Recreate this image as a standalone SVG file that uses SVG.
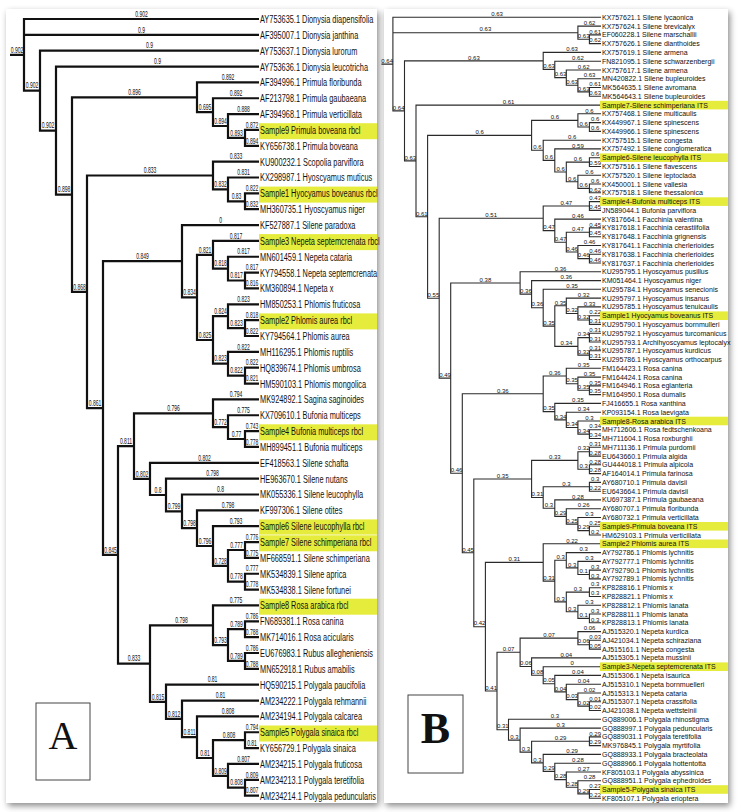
<svg xmlns="http://www.w3.org/2000/svg" width="756" height="812" viewBox="0 0 756 812">
<defs>
<filter id="sh" x="-5%" y="-5%" width="112%" height="110%">
<feDropShadow dx="2" dy="3" stdDeviation="3" flood-color="#000" flood-opacity="0.45"/>
</filter>
<style>
text{font-family:"Liberation Sans",Arial,sans-serif;fill:#111}
.la{font-size:11px;transform-box:fill-box;transform-origin:0% 50%;transform:scaleX(0.67)}
.ba text{font-size:8.4px;text-anchor:middle;transform-box:fill-box;transform-origin:50% 50%;transform:scaleX(0.6)}
.lb{font-size:7px}
.bb text{font-size:6px;text-anchor:middle}
.ea{stroke:#111;stroke-width:2.2;fill:none}
.eb{stroke:#2a2a2a;stroke-width:1.1;fill:none}
.hl{fill:#e6ec3c}
.panel{fill:#fff;filter:url(#sh)}
.lbox{fill:#fff;stroke:#444;stroke-width:1}
.big{font-family:"Liberation Serif","Times New Roman",serif;text-anchor:middle;fill:#111}
</style>
</defs>
<rect width="756" height="812" fill="#fff"/>
<rect class="panel" x="6" y="9" width="371" height="794"/>
<rect class="panel" x="384" y="9" width="344" height="794"/>

<!-- Panel A connectors -->
<g id="a-edges" class="ea">
<path d="M10 54.9H24M259 19H24V90.7H40M24 34.85H259"/>
<path d="M259 50.7H40V130.6H56M259 66.55H56V194.6H72M197 97.3H72V291.8H87"/>
<path d="M259 82.4H197V112.1H213M259 98.25H213V126H228M259 114.1H228V137.9H245M259 129.95H245V145.8H259"/>
<path d="M213 175.5H87V408.1H103M259 161.65H213V189.4H228M259 177.5H228V201.3H245M259 193.35H245V209.2H259"/>
<path d="M182 261.2H103V554.9H118M259 225.05H182V297.4H197M213 254.8H197V340H213M259 240.9H213V268.6H228M259 256.75H228V280.5H245M259 272.6H245V288.45H259"/>
<path d="M228 316.2H213V363.7H228M259 304.3H228V328.1H245M259 320.15H245V336H259M259 351.85H228V375.6H245M259 367.7H245V383.55H259"/>
<path d="M134 446.1H118V663.6H150M213 413.3H134V478.9H150M259 399.4H213V427.1H228M259 415.25H228V439H245M259 431.1H245V446.95H259"/>
<path d="M259 462.8H150V495H166M259 478.65H166V511.4H182M259 494.5H182V528.2H197M259 510.35H197V546H213M259 526.2H213V565.8H228M245 550H228V581.7H245M259 542.05H245V557.9H259M259 573.75H245V589.6H259"/>
<path d="M213 625.3H150V701.8H166M259 605.45H213V645.1H228M245 629.2H228V660.9H245M259 621.3H245V637.15H259M259 653H245V668.85H259"/>
<path d="M259 684.7H166V718.9H182M259 700.55H182V737.2H197M259 716.4H197V758H213M245 740.2H213V775.8H228M259 732.25H245V748.1H259M259 763.95H228V787.7H245M259 779.8H245V795.65H259"/>
</g>

<!-- Panel A branch labels -->
<g id="a-branch-labels" class="ba">
<text x="17" y="52.7">0.902</text><text x="141.5" y="16.8">0.902</text><text x="141.5" y="32.6">0.9</text>
<text x="32" y="88.5">0.902</text><text x="149.5" y="48.5">0.9</text><text x="48" y="128.4">0.902</text>
<text x="157.5" y="64.3">0.9</text><text x="64" y="192.4">0.898</text><text x="134.5" y="95.1">0.896</text>
<text x="228" y="80.2">0.892</text><text x="205" y="109.9">0.695</text><text x="236" y="96">0.892</text>
<text x="220.5" y="123.8">0.894</text><text x="243.5" y="111.9">0.888</text><text x="236.5" y="135.7">0.893</text>
<text x="252" y="127.7">0.872</text><text x="252" y="143.6">0.894</text><text x="79.5" y="289.6">0.868</text>
<text x="150" y="173.3">0.833</text><text x="236" y="159.4">0.833</text><text x="220.5" y="187.2">0.832</text>
<text x="243.5" y="175.3">0.831</text><text x="236.5" y="199.1">0.83</text><text x="252" y="191.1">0.822</text>
<text x="252" y="207">0.832</text><text x="95" y="405.9">0.861</text><text x="142.5" y="259">0.849</text>
<text x="220.5" y="222.8">0</text><text x="189.5" y="295.2">0.834</text><text x="205" y="252.6">0.821</text>
<text x="236" y="238.7">0.817</text><text x="220.5" y="266.4">0.818</text><text x="243.5" y="254.5">0.817</text>
<text x="236.5" y="278.3">0.817</text><text x="252" y="270.4">0.817</text><text x="252" y="286.2">0.816</text>
<text x="205" y="337.8">0.825</text><text x="220.5" y="314">0.824</text><text x="243.5" y="302.1">0.823</text>
<text x="236.5" y="325.9">0.823</text><text x="252" y="317.9">0.818</text><text x="252" y="333.8">0.822</text>
<text x="220.5" y="361.5">0.823</text><text x="243.5" y="349.6">0.822</text><text x="236.5" y="373.4">0.822</text>
<text x="252" y="365.5">0.822</text><text x="252" y="381.3">0.821</text><text x="110.5" y="552.7">0.845</text>
<text x="126" y="443.9">0.811</text><text x="173.5" y="411.1">0.796</text><text x="236" y="397.2">0.794</text>
<text x="220.5" y="424.9">0.772</text><text x="243.5" y="413">0.775</text><text x="236.5" y="436.8">0.77</text>
<text x="252" y="428.9">0.743</text><text x="252" y="444.7">0.778</text><text x="142" y="476.7">0.802</text>
<text x="204.5" y="460.6">0.802</text><text x="158" y="492.8">0.8</text><text x="212.5" y="476.4">0.798</text>
<text x="174" y="509.2">0.799</text><text x="220.5" y="492.3">0.8</text><text x="189.5" y="526">0.798</text>
<text x="228" y="508.1">0.798</text><text x="205" y="543.8">0.796</text><text x="236" y="524">0.793</text>
<text x="220.5" y="563.6">0.728</text><text x="236.5" y="547.8">0.777</text><text x="252" y="539.8">0.776</text>
<text x="252" y="555.7">0.775</text><text x="236.5" y="579.5">0.778</text><text x="252" y="571.5">0.777</text>
<text x="252" y="587.4">0.778</text><text x="134" y="661.4">0.833</text><text x="181.5" y="623.1">0.798</text>
<text x="236" y="603.2">0.775</text><text x="220.5" y="642.9">0.793</text><text x="236.5" y="627">0.789</text>
<text x="252" y="619.1">0.786</text><text x="252" y="634.9">0.788</text><text x="236.5" y="658.7">0.789</text>
<text x="252" y="650.8">0.786</text><text x="252" y="666.6">0.788</text><text x="158" y="699.6">0.815</text>
<text x="212.5" y="682.5">0.81</text><text x="174" y="716.7">0.812</text><text x="220.5" y="698.3">0.81</text>
<text x="189.5" y="735">0.811</text><text x="228" y="714.2">0.808</text><text x="205" y="755.8">0.81</text>
<text x="229" y="738">0.808</text><text x="252" y="730">0.794</text><text x="252" y="745.9">0.81</text>
<text x="220.5" y="773.6">0.809</text><text x="243.5" y="761.7">0.807</text><text x="236.5" y="785.5">0.808</text>
<text x="252" y="777.6">0.809</text><text x="252" y="793.4">0.807</text>
</g>

<!-- Panel A leaves -->
<g id="a-leaves">
<g id="a01"><text class="la" x="260" y="23">AY753635.1 Dionysia diapensifolia</text></g>
<g id="a02"><text class="la" x="260" y="38.9">AF395007.1 Dionysia janthina</text></g>
<g id="a03"><text class="la" x="260" y="54.7">AY753637.1 Dionysia lurorum</text></g>
<g id="a04"><text class="la" x="260" y="70.6">AY753636.1 Dionysia leucotricha</text></g>
<g id="a05"><text class="la" x="260" y="86.4">AF394996.1 Primula floribunda</text></g>
<g id="a06"><text class="la" x="260" y="102.3">AF213798.1 Primula gaubaeana</text></g>
<g id="a07"><text class="la" x="260" y="118.1">AF394968.1 Primula verticillata</text></g>
<g id="a08"><rect class="hl" x="259" y="123.2" width="118" height="16"/><text class="la" x="260" y="134">Sample9 Primula boveana rbcl</text></g>
<g id="a09"><text class="la" x="260" y="149.8">KY656738.1 Primula boveana</text></g>
<g id="a10"><text class="la" x="260" y="165.7">KU900232.1 Scopolia parviflora</text></g>
<g id="a11"><text class="la" x="260" y="181.5">KX298987.1 Hyoscyamus muticus</text></g>
<g id="a12"><rect class="hl" x="259" y="186.6" width="118" height="16"/><text class="la" x="260" y="197.4">Sample1 Hyocyamus boveanus rbcl</text></g>
<g id="a13"><text class="la" x="260" y="213.2">MH360735.1 Hyoscyamus niger</text></g>
<g id="a14"><text class="la" x="260" y="229.1">KF527887.1 Silene paradoxa</text></g>
<g id="a15"><rect class="hl" x="259" y="234.1" width="118" height="16"/><text class="la" x="260" y="244.9">Sample3 Nepeta septemcrenata rbcl</text></g>
<g id="a16"><text class="la" x="260" y="260.8">MN601459.1 Nepeta cataria</text></g>
<g id="a17"><text class="la" x="260" y="276.6">KY794558.1 Nepeta septemcrenata</text></g>
<g id="a18"><text class="la" x="260" y="292.5">KM360894.1 Nepeta x</text></g>
<g id="a19"><text class="la" x="260" y="308.3">HM850253.1 Phlomis fruticosa</text></g>
<g id="a20"><rect class="hl" x="259" y="313.4" width="118" height="16"/><text class="la" x="260" y="324.2">Sample2 Phlomis aurea rbcl</text></g>
<g id="a21"><text class="la" x="260" y="340">KY794564.1 Phlomis aurea</text></g>
<g id="a22"><text class="la" x="260" y="355.9">MH116295.1 Phlomis ruptilis</text></g>
<g id="a23"><text class="la" x="260" y="371.7">HQ839674.1 Phlomis umbrosa</text></g>
<g id="a24"><text class="la" x="260" y="387.6">HM590103.1 Phlomis mongolica</text></g>
<g id="a25"><text class="la" x="260" y="403.4">MK924892.1 Sagina saginoides</text></g>
<g id="a26"><text class="la" x="260" y="419.3">KX709610.1 Bufonia multiceps</text></g>
<g id="a27"><rect class="hl" x="259" y="424.3" width="118" height="16"/><text class="la" x="260" y="435.1">Sample4 Bufonia multiceps rbcl</text></g>
<g id="a28"><text class="la" x="260" y="451">MH899451.1 Bufonia multiceps</text></g>
<g id="a29"><text class="la" x="260" y="466.8">EF418563.1 Silene schafta</text></g>
<g id="a30"><text class="la" x="260" y="482.7">HE963670.1 Silene nutans</text></g>
<g id="a31"><text class="la" x="260" y="498.5">MK055336.1 Silene leucophylla</text></g>
<g id="a32"><text class="la" x="260" y="514.4">KF997306.1 Silene otites</text></g>
<g id="a33"><rect class="hl" x="259" y="519.4" width="118" height="15.2"/><text class="la" x="260" y="530.2">Sample6 Silene leucophylla rbcl</text></g>
<g id="a34"><rect class="hl" x="259" y="535.3" width="118" height="16"/><text class="la" x="260" y="546.1">Sample7 Silene schimperiana rbcl</text></g>
<g id="a35"><text class="la" x="260" y="561.9">MF668591.1 Silene schimperiana</text></g>
<g id="a36"><text class="la" x="260" y="577.8">MK534839.1 Silene aprica</text></g>
<g id="a37"><text class="la" x="260" y="593.6">MK534838.1 Silene fortunei</text></g>
<g id="a38"><rect class="hl" x="259" y="598.7" width="118" height="16"/><text class="la" x="260" y="609.5">Sample8 Rosa arabica rbcl</text></g>
<g id="a39"><text class="la" x="260" y="625.3">FN689381.1 Rosa canina</text></g>
<g id="a40"><text class="la" x="260" y="641.2">MK714016.1 Rosa acicularis</text></g>
<g id="a41"><text class="la" x="260" y="657">EU676983.1 Rubus allegheniensis</text></g>
<g id="a42"><text class="la" x="260" y="672.9">MN652918.1 Rubus amabilis</text></g>
<g id="a43"><text class="la" x="260" y="688.7">HQ590215.1 Polygala paucifolia</text></g>
<g id="a44"><text class="la" x="260" y="704.6">AM234222.1 Polygala rehmannii</text></g>
<g id="a45"><text class="la" x="260" y="720.4">AM234194.1 Polygala calcarea</text></g>
<g id="a46"><rect class="hl" x="259" y="725.5" width="118" height="16"/><text class="la" x="260" y="736.3">Sample5 Polygala sinaica rbcl</text></g>
<g id="a47"><text class="la" x="260" y="752.1">KY656729.1 Polygala sinaica</text></g>
<g id="a48"><text class="la" x="260" y="768">AM234215.1 Polygala fruticosa</text></g>
<g id="a49"><text class="la" x="260" y="783.8">AM234213.1 Polygala teretifolia</text></g>
<g id="a50"><text class="la" x="260" y="799.7">AM234214.1 Polygala peduncularis</text></g>
</g>

<g id="a-tag"><rect class="lbox" x="36" y="703" width="54" height="77"/><text class="big" x="63" y="749" font-size="40">A</text></g>

<!-- Panel B connectors -->
<g id="b-edges" class="eb">
<path d="M381.4 64.1H392.9M601 17.3H392.9V110.9H404.5M392.9 32.7H577.9M601 26.1H577.9V39.2H589.4M601 34.9H589.4V43.6H601"/>
<path d="M543.2 60.9H404.5V160.9H416M601 52.4H543.2V69.4H554.8M601 61.2H554.8V77.6H566.3M601 70H566.3V85.3H577.9M601 78.7H577.9V91.9H589.4M601 87.5H589.4V96.3H601"/>
<path d="M601 105.1H416V216.8H427.6M531.6 135.4H427.6V298.2H439.2"/>
<path d="M577.9 120.4H531.6V150.3H543.2M601 113.8H577.9V127H589.4M601 122.6H589.4V131.4H601M601 140.2H543.2V160.4H554.8M601 148.9H554.8V172H566.3M589.4 162.1H566.3V181.8H577.9M601 157.7H589.4V166.5H601M601 175.3H577.9V188.4H589.4M601 184H589.4V192.8H601"/>
<path d="M543.2 218.3H439.2V378.1H450.7M589.4 206H543.2V230.6H554.8M601 201.6H589.4V210.4H601M601 219.1H554.8V242.2H566.3M589.4 232.3H566.3V252H577.9M601 227.9H589.4V236.7H601M601 245.5H577.9V258.6H589.4M601 254.2H589.4V263H601"/>
<path d="M520.1 283H450.7V473.3H462.3M601 271.8H520.1V294.1H531.6M601 280.6H531.6V307.7H543.2M601 289.3H543.2V326.1H554.8M566.3 305.8H554.8V346.4H577.9M601 298.1H566.3V313.5H577.9M601 306.9H577.9V320H589.4M601 315.7H589.4V324.4H601M589.4 337.6H577.9V355.1H589.4M601 333.2H589.4V342H601M601 350.8H589.4V359.5H601"/>
<path d="M543.2 393.8H462.3V552.8H473.8M566.3 376H543.2V411.6H554.8M601 368.3H566.3V383.7H577.9M601 377.1H577.9V390.2H589.4M601 385.9H589.4V394.6H601M601 403.4H554.8V419.9H566.3M601 412.2H566.3V427.5H577.9M601 421H577.9V434.1H589.4M601 429.7H589.4V438.5H601"/>
<path d="M531.6 479H473.8V626.7H485.4M577.9 460.4H531.6V497.5H543.2M589.4 451.7H577.9V469.2H589.4M601 447.3H589.4V456.1H601M601 464.8H589.4V473.6H601M589.4 486.8H543.2V508.2H554.8M601 482.4H589.4V491.2H601M601 499.9H554.8V516.4H566.3M601 508.7H566.3V524.1H577.9M601 517.5H577.9V530.6H589.4M601 526.3H589.4V535H601"/>
<path d="M543.2 562.4H485.4V691H497M601 543.8H543.2V581.1H554.8M566.3 560.3H554.8V601.9H566.3M601 552.6H566.3V567.9H577.9M601 561.4H577.9V574.5H589.4M601 570.1H589.4V578.9H601M589.4 592.1H566.3V611.8H577.9M601 587.7H589.4V596.5H601M601 605.2H577.9V618.4H589.4M601 614H589.4V622.8H601"/>
<path d="M520.1 652.3H497V729.7H508.5M577.9 638.1H520.1V666.5H531.6M601 631.6H577.9V644.7H589.4M601 640.3H589.4V649.1H601M601 657.9H531.6V675.2H543.2M601 666.7H543.2V683.7H554.8M601 675.4H554.8V691.9H566.3M601 684.2H566.3V699.6H577.9M601 693H577.9V706.1H589.4M601 701.8H589.4V710.5H601"/>
<path d="M601 719.3H508.5V740.1H520.1M601 728.1H520.1V752.1H531.6M589.4 741.2H531.6V762.9H543.2M601 736.9H589.4V745.6H601M601 754.4H543.2V771.4H554.8M601 763.2H554.8V779.6H566.3M601 772H566.3V787.3H577.9M601 780.7H577.9V793.9H589.4M601 789.5H589.4V798.3H601"/>
</g>

<!-- Panel B branch labels -->
<g id="b-branch-labels" class="bb">
<text x="387.2" y="62.8">0.64</text><text x="497" y="16">0.63</text><text x="485.4" y="31.4">0.63</text>
<text x="589.5" y="24.8">0.62</text><text x="583.7" y="37.9">0.63</text><text x="595.2" y="33.6">0.61</text>
<text x="595.2" y="42.3">0.62</text><text x="398.7" y="109.6">0.64</text><text x="473.9" y="59.6">0.63</text>
<text x="572.1" y="51.1">0.63</text><text x="549" y="68.1">0.63</text><text x="577.9" y="59.9">0.62</text>
<text x="560.6" y="76.3">0.63</text><text x="583.7" y="68.7">0.62</text><text x="572.1" y="84">0.63</text>
<text x="589.5" y="77.4">0.63</text><text x="583.7" y="90.6">0.63</text><text x="595.2" y="86.2">0.61</text>
<text x="595.2" y="95">0.63</text><text x="410.3" y="159.6">0.63</text><text x="508.5" y="103.8">0.61</text>
<text x="421.8" y="215.5">0.61</text><text x="479.6" y="134.1">0.6</text><text x="554.8" y="119.1">0.6</text>
<text x="589.5" y="112.5">0.6</text><text x="583.7" y="125.7">0.6</text><text x="595.2" y="121.3">0.6</text>
<text x="595.2" y="130.1">0.6</text><text x="537.4" y="149">0.6</text><text x="572.1" y="138.9">0.6</text>
<text x="549" y="159.1">0.6</text><text x="577.9" y="147.6">0.59</text><text x="560.6" y="170.7">0.6</text>
<text x="577.9" y="160.8">0.6</text><text x="595.2" y="156.4">0.6</text><text x="595.2" y="165.2">0.59</text>
<text x="572.1" y="180.5">0.6</text><text x="589.5" y="174">0.6</text><text x="583.7" y="187.1">0.6</text>
<text x="595.2" y="182.7">0.6</text><text x="595.2" y="191.5">0.62</text><text x="433.4" y="296.9">0.55</text>
<text x="491.2" y="217">0.51</text><text x="566.3" y="204.7">0.47</text><text x="595.2" y="200.3">0.43</text>
<text x="595.2" y="209.1">0.45</text><text x="549" y="229.3">0.47</text><text x="577.9" y="217.8">0.46</text>
<text x="560.6" y="240.9">0.47</text><text x="577.9" y="231">0.47</text><text x="595.2" y="226.6">0.45</text>
<text x="595.2" y="235.4">0.45</text><text x="572.1" y="250.7">0.46</text><text x="589.5" y="244.2">0.46</text>
<text x="583.7" y="257.3">0.46</text><text x="595.2" y="252.9">0.46</text><text x="595.2" y="261.7">0.46</text>
<text x="445" y="376.8">0.49</text><text x="485.4" y="281.7">0.38</text><text x="560.6" y="270.5">0.36</text>
<text x="525.9" y="292.8">0.36</text><text x="566.3" y="279.3">0.36</text><text x="537.4" y="306.4">0.36</text>
<text x="572.1" y="288">0.35</text><text x="549" y="324.8">0.35</text><text x="560.6" y="304.5">0.35</text>
<text x="583.7" y="296.8">0.32</text><text x="572.1" y="312.2">0.32</text><text x="589.5" y="305.6">0.33</text>
<text x="583.7" y="318.7">0.32</text><text x="595.2" y="314.4">0.22</text><text x="595.2" y="323.1">0.31</text>
<text x="566.4" y="345.1">0.34</text><text x="583.7" y="336.3">0.34</text><text x="595.2" y="331.9">0.31</text>
<text x="595.2" y="340.7">0.31</text><text x="583.7" y="353.8">0.32</text><text x="595.2" y="349.5">0.31</text>
<text x="595.2" y="358.2">0.31</text><text x="456.5" y="472">0.46</text><text x="502.8" y="392.5">0.36</text>
<text x="554.8" y="374.7">0.36</text><text x="583.7" y="367">0.35</text><text x="572.1" y="382.4">0.35</text>
<text x="589.5" y="375.8">0.35</text><text x="583.7" y="388.9">0.35</text><text x="595.2" y="384.6">0.35</text>
<text x="595.2" y="393.3">0.35</text><text x="549" y="410.3">0.35</text><text x="577.9" y="402.1">0.35</text>
<text x="560.6" y="418.6">0.34</text><text x="583.7" y="410.9">0.34</text><text x="572.1" y="426.2">0.34</text>
<text x="589.5" y="419.7">0.3</text><text x="583.7" y="432.8">0.34</text><text x="595.2" y="428.4">0.34</text>
<text x="595.2" y="437.2">0.34</text><text x="468.1" y="551.5">0.45</text><text x="502.7" y="477.7">0.35</text>
<text x="554.8" y="459.1">0.33</text><text x="583.7" y="450.4">0.32</text><text x="595.2" y="446">0.31</text>
<text x="595.2" y="454.8">0.28</text><text x="583.7" y="467.9">0.3</text><text x="595.2" y="463.5">0.28</text>
<text x="595.2" y="472.3">0.28</text><text x="537.4" y="496.2">0.31</text><text x="566.3" y="485.5">0.3</text>
<text x="595.2" y="481.1">0.3</text><text x="595.2" y="489.9">0.22</text><text x="549" y="506.9">0.3</text>
<text x="577.9" y="498.6">0.28</text><text x="560.6" y="515.1">0.29</text><text x="583.7" y="507.4">0.26</text>
<text x="572.1" y="522.8">0.25</text><text x="589.5" y="516.2">0.3</text><text x="583.7" y="529.3">0.29</text>
<text x="595.2" y="525">0.25</text><text x="595.2" y="533.7">0.2</text><text x="479.6" y="625.4">0.42</text>
<text x="514.3" y="561.1">0.31</text><text x="572.1" y="542.5">0.22</text><text x="549" y="579.8">0.31</text>
<text x="560.6" y="559">0.3</text><text x="583.7" y="551.3">0.3</text><text x="572.1" y="566.6">0.3</text>
<text x="589.5" y="560.1">0.3</text><text x="583.7" y="573.2">0.1</text><text x="595.2" y="568.8">0.3</text>
<text x="595.2" y="577.6">0.3</text><text x="560.6" y="600.6">0.3</text><text x="577.9" y="590.8">0.3</text>
<text x="595.2" y="586.4">0.3</text><text x="595.2" y="595.2">0.3</text><text x="572.1" y="610.5">0.3</text>
<text x="589.5" y="603.9">0.3</text><text x="583.7" y="617.1">0.1</text><text x="595.2" y="612.7">0.3</text>
<text x="595.2" y="621.5">0.3</text><text x="491.2" y="689.7">0.41</text><text x="508.6" y="651">0.07</text>
<text x="549" y="636.8">0.07</text><text x="589.5" y="630.3">0.06</text><text x="583.7" y="643.4">0.06</text>
<text x="595.2" y="639">0.03</text><text x="595.2" y="647.8">0.05</text><text x="525.9" y="665.2">0.06</text>
<text x="566.3" y="656.6">0.04</text><text x="537.4" y="673.9">0.08</text><text x="572.1" y="665.4">0</text>
<text x="549" y="682.4">0.05</text><text x="577.9" y="674.1">0.04</text><text x="560.6" y="690.6">0.04</text>
<text x="583.7" y="682.9">0.04</text><text x="572.1" y="698.3">0.03</text><text x="589.5" y="691.7">0.02</text>
<text x="583.7" y="704.8">0.02</text><text x="595.2" y="700.5">0.01</text><text x="595.2" y="709.2">0.02</text>
<text x="502.8" y="728.4">0.31</text><text x="554.8" y="718">0.3</text><text x="514.3" y="738.8">0.3</text>
<text x="560.6" y="726.8">0.3</text><text x="525.9" y="750.8">0.3</text><text x="560.5" y="739.9">0.29</text>
<text x="595.2" y="735.6">0.29</text><text x="595.2" y="744.3">0.29</text><text x="537.4" y="761.6">0.3</text>
<text x="572.1" y="753.1">0.29</text><text x="549" y="770.1">0.29</text><text x="577.9" y="761.9">0.28</text>
<text x="560.6" y="778.3">0.28</text><text x="583.7" y="770.7">0.27</text><text x="572.1" y="786">0.28</text>
<text x="589.5" y="779.4">0.28</text><text x="583.7" y="792.6">0.29</text><text x="595.2" y="788.2">0.23</text>
<text x="595.2" y="797">0.22</text>
</g>

<!-- Panel B leaves -->
<g id="b-leaves">
<g id="b01"><text class="lb" x="602" y="19.8">KX757621.1 Silene lycaonica</text></g>
<g id="b02"><text class="lb" x="602" y="28.6">KX757624.1 Silene brevicalyx</text></g>
<g id="b03"><text class="lb" x="602" y="37.4">EF060228.1 Silene marschallii</text></g>
<g id="b04"><text class="lb" x="602" y="46.1">KX757626.1 Silene dianthoides</text></g>
<g id="b05"><text class="lb" x="602" y="54.9">KX757619.1 Silene armena</text></g>
<g id="b06"><text class="lb" x="602" y="63.7">FN821095.1 Silene schwarzenbergii</text></g>
<g id="b07"><text class="lb" x="602" y="72.5">KX757617.1 Silene armena</text></g>
<g id="b08"><text class="lb" x="602" y="81.2">MN420822.1 Silene bupleuroides</text></g>
<g id="b09"><text class="lb" x="602" y="90">MK564635.1 Silene avromana</text></g>
<g id="b10"><text class="lb" x="602" y="98.8">MK564643.1 Silene bupleuroides</text></g>
<g id="b11"><rect class="hl" x="600" y="100.8" width="128" height="8.6"/><text class="lb" x="602" y="107.6">Sample7-Silene schimperiana ITS</text></g>
<g id="b12"><text class="lb" x="602" y="116.3">KX757468.1 Silene multicaulis</text></g>
<g id="b13"><text class="lb" x="602" y="125.1">KX449967.1 Silene spinescens</text></g>
<g id="b14"><text class="lb" x="602" y="133.9">KX449966.1 Silene spinescens</text></g>
<g id="b15"><text class="lb" x="602" y="142.7">KX757515.1 Silene congesta</text></g>
<g id="b16"><text class="lb" x="602" y="151.4">KX757492.1 Silene conglomeratica</text></g>
<g id="b17"><rect class="hl" x="600" y="153.4" width="128" height="8.6"/><text class="lb" x="602" y="160.2">Sample6-Silene leucophylla ITS</text></g>
<g id="b18"><text class="lb" x="602" y="169">KX757516.1 Silene flavescens</text></g>
<g id="b19"><text class="lb" x="602" y="177.8">KX757520.1 Silene leptoclada</text></g>
<g id="b20"><text class="lb" x="602" y="186.5">KX450001.1 Silene vallesia</text></g>
<g id="b21"><text class="lb" x="602" y="195.3">KX757518.1 Silene thessalonica</text></g>
<g id="b22"><rect class="hl" x="600" y="197.3" width="128" height="8.6"/><text class="lb" x="602" y="204.1">Sample4-Bufonia multiceps ITS</text></g>
<g id="b23"><text class="lb" x="602" y="212.9">JN589044.1 Bufonia parviflora</text></g>
<g id="b24"><text class="lb" x="602" y="221.6">KY817664.1 Facchinia valentina</text></g>
<g id="b25"><text class="lb" x="602" y="230.4">KY817618.1 Facchinia cerastiifolia</text></g>
<g id="b26"><text class="lb" x="602" y="239.2">KY817648.1 Facchinia grignensis</text></g>
<g id="b27"><text class="lb" x="602" y="248">KY817641.1 Facchinia cherlerioides</text></g>
<g id="b28"><text class="lb" x="602" y="256.7">KY817638.1 Facchinia cherlerioides</text></g>
<g id="b29"><text class="lb" x="602" y="265.5">KY817637.1 Facchinia cherlerioides</text></g>
<g id="b30"><text class="lb" x="602" y="274.3">KU295795.1 Hyoscyamus pusillus</text></g>
<g id="b31"><text class="lb" x="602" y="283.1">KM051464.1 Hyoscyamus niger</text></g>
<g id="b32"><text class="lb" x="602" y="291.8">KU295784.1 Hyoscyamus senecionis</text></g>
<g id="b33"><text class="lb" x="602" y="300.6">KU295797.1 Hyoscyamus insanus</text></g>
<g id="b34"><text class="lb" x="602" y="309.4">KU295785.1 Hyoscyamus tenuicaulis</text></g>
<g id="b35"><rect class="hl" x="600" y="311.4" width="128" height="8.6"/><text class="lb" x="602" y="318.2">Sample1 Hyocyamus boveanus ITS</text></g>
<g id="b36"><text class="lb" x="602" y="326.9">KU295790.1 Hyoscyamus bornmulleri</text></g>
<g id="b37"><text class="lb" x="602" y="335.7">KU295792.1 Hyoscyamus turcomanicus</text></g>
<g id="b38"><text class="lb" x="602" y="344.5">KU295793.1 Archihyoscyamus leptocalyx</text></g>
<g id="b39"><text class="lb" x="602" y="353.3">KU295787.1 Hyoscyamus kurdicus</text></g>
<g id="b40"><text class="lb" x="602" y="362">KU295786.1 Hyoscyamus orthocarpus</text></g>
<g id="b41"><text class="lb" x="602" y="370.8">FM164423.1 Rosa canina</text></g>
<g id="b42"><text class="lb" x="602" y="379.6">FM164424.1 Rosa canina</text></g>
<g id="b43"><text class="lb" x="602" y="388.4">FM164946.1 Rosa eglanteria</text></g>
<g id="b44"><text class="lb" x="602" y="397.1">FM164950.1 Rosa dumalis</text></g>
<g id="b45"><text class="lb" x="602" y="405.9">FJ416655.1 Rosa xanthina</text></g>
<g id="b46"><text class="lb" x="602" y="414.7">KP093154.1 Rosa laevigata</text></g>
<g id="b47"><rect class="hl" x="600" y="416.7" width="128" height="8.6"/><text class="lb" x="602" y="423.5">Sample8-Rosa arabica ITS</text></g>
<g id="b48"><text class="lb" x="602" y="432.2">MH712606.1 Rosa fedtschenkoana</text></g>
<g id="b49"><text class="lb" x="602" y="441">MH711604.1 Rosa roxburghii</text></g>
<g id="b50"><text class="lb" x="602" y="449.8">MH711136.1 Primula purdomii</text></g>
<g id="b51"><text class="lb" x="602" y="458.6">EU643660.1 Primula algida</text></g>
<g id="b52"><text class="lb" x="602" y="467.3">GU444018.1 Primula alpicola</text></g>
<g id="b53"><text class="lb" x="602" y="476.1">AF164014.1 Primula farinosa</text></g>
<g id="b54"><text class="lb" x="602" y="484.9">AY680710.1 Primula davisii</text></g>
<g id="b55"><text class="lb" x="602" y="493.7">EU643664.1 Primula davisii</text></g>
<g id="b56"><text class="lb" x="602" y="502.4">KU697387.1 Primula gaubaeana</text></g>
<g id="b57"><text class="lb" x="602" y="511.2">AY680707.1 Primula floribunda</text></g>
<g id="b58"><text class="lb" x="602" y="520">AY680732.1 Primula verticillata</text></g>
<g id="b59"><rect class="hl" x="600" y="522" width="128" height="8.6"/><text class="lb" x="602" y="528.8">Sample9-Primula boveana ITS</text></g>
<g id="b60"><text class="lb" x="602" y="537.5">HM629103.1 Primula verticillata</text></g>
<g id="b61"><rect class="hl" x="600" y="539.5" width="128" height="8.6"/><text class="lb" x="602" y="546.3">Sample2 Phlomis aurea ITS</text></g>
<g id="b62"><text class="lb" x="602" y="555.1">AY792786.1 Phlomis lychnitis</text></g>
<g id="b63"><text class="lb" x="602" y="563.9">AY792777.1 Phlomis lychnitis</text></g>
<g id="b64"><text class="lb" x="602" y="572.6">AY792790.1 Phlomis lychnitis</text></g>
<g id="b65"><text class="lb" x="602" y="581.4">AY792789.1 Phlomis lychnitis</text></g>
<g id="b66"><text class="lb" x="602" y="590.2">KP828816.1 Phlomis x</text></g>
<g id="b67"><text class="lb" x="602" y="599">KP828821.1 Phlomis x</text></g>
<g id="b68"><text class="lb" x="602" y="607.7">KP828812.1 Phlomis lanata</text></g>
<g id="b69"><text class="lb" x="602" y="616.5">KP828811.1 Phlomis lanata</text></g>
<g id="b70"><text class="lb" x="602" y="625.3">KP828813.1 Phlomis lanata</text></g>
<g id="b71"><text class="lb" x="602" y="634.1">AJ515320.1 Nepeta kurdica</text></g>
<g id="b72"><text class="lb" x="602" y="642.8">AJ421034.1 Nepeta schiraziana</text></g>
<g id="b73"><text class="lb" x="602" y="651.6">AJ515161.1 Nepeta congesta</text></g>
<g id="b74"><text class="lb" x="602" y="660.4">AJ515305.1 Nepeta mussinii</text></g>
<g id="b75"><rect class="hl" x="600" y="662.4" width="128" height="8.6"/><text class="lb" x="602" y="669.2">Sample3-Nepeta septemcrenata ITS</text></g>
<g id="b76"><text class="lb" x="602" y="677.9">AJ515306.1 Nepeta isaurica</text></g>
<g id="b77"><text class="lb" x="602" y="686.7">AJ515310.1 Nepeta bornmuelleri</text></g>
<g id="b78"><text class="lb" x="602" y="695.5">AJ515313.1 Nepeta cataria</text></g>
<g id="b79"><text class="lb" x="602" y="704.3">AJ515307.1 Nepeta crassifolia</text></g>
<g id="b80"><text class="lb" x="602" y="713">AJ421038.1 Nepeta wettsteinii</text></g>
<g id="b81"><text class="lb" x="602" y="721.8">GQ889006.1 Polygala rhinostigma</text></g>
<g id="b82"><text class="lb" x="602" y="730.6">GQ888997.1 Polygala peduncularis</text></g>
<g id="b83"><text class="lb" x="602" y="739.4">GQ889031.1 Polygala teretifolia</text></g>
<g id="b84"><text class="lb" x="602" y="748.1">MK976845.1 Polygala myrtifolia</text></g>
<g id="b85"><text class="lb" x="602" y="756.9">GQ888933.1 Polygala bracteolata</text></g>
<g id="b86"><text class="lb" x="602" y="765.7">GQ888966.1 Polygala hottentotta</text></g>
<g id="b87"><text class="lb" x="602" y="774.5">KF805103.1 Polygala abyssinica</text></g>
<g id="b88"><text class="lb" x="602" y="783.2">GQ888951.1 Polygala ephedroides</text></g>
<g id="b89"><rect class="hl" x="600" y="785.2" width="128" height="8.6"/><text class="lb" x="602" y="792">Sample5-Polygala sinaica ITS</text></g>
<g id="b90"><text class="lb" x="602" y="800.8">KF805107.1 Polygala erioptera</text></g>
</g>

<g id="b-tag"><rect class="lbox" x="408" y="695" width="55" height="78"/><text class="big" x="435.5" y="743" font-size="44" font-weight="bold">B</text></g>
</svg>
